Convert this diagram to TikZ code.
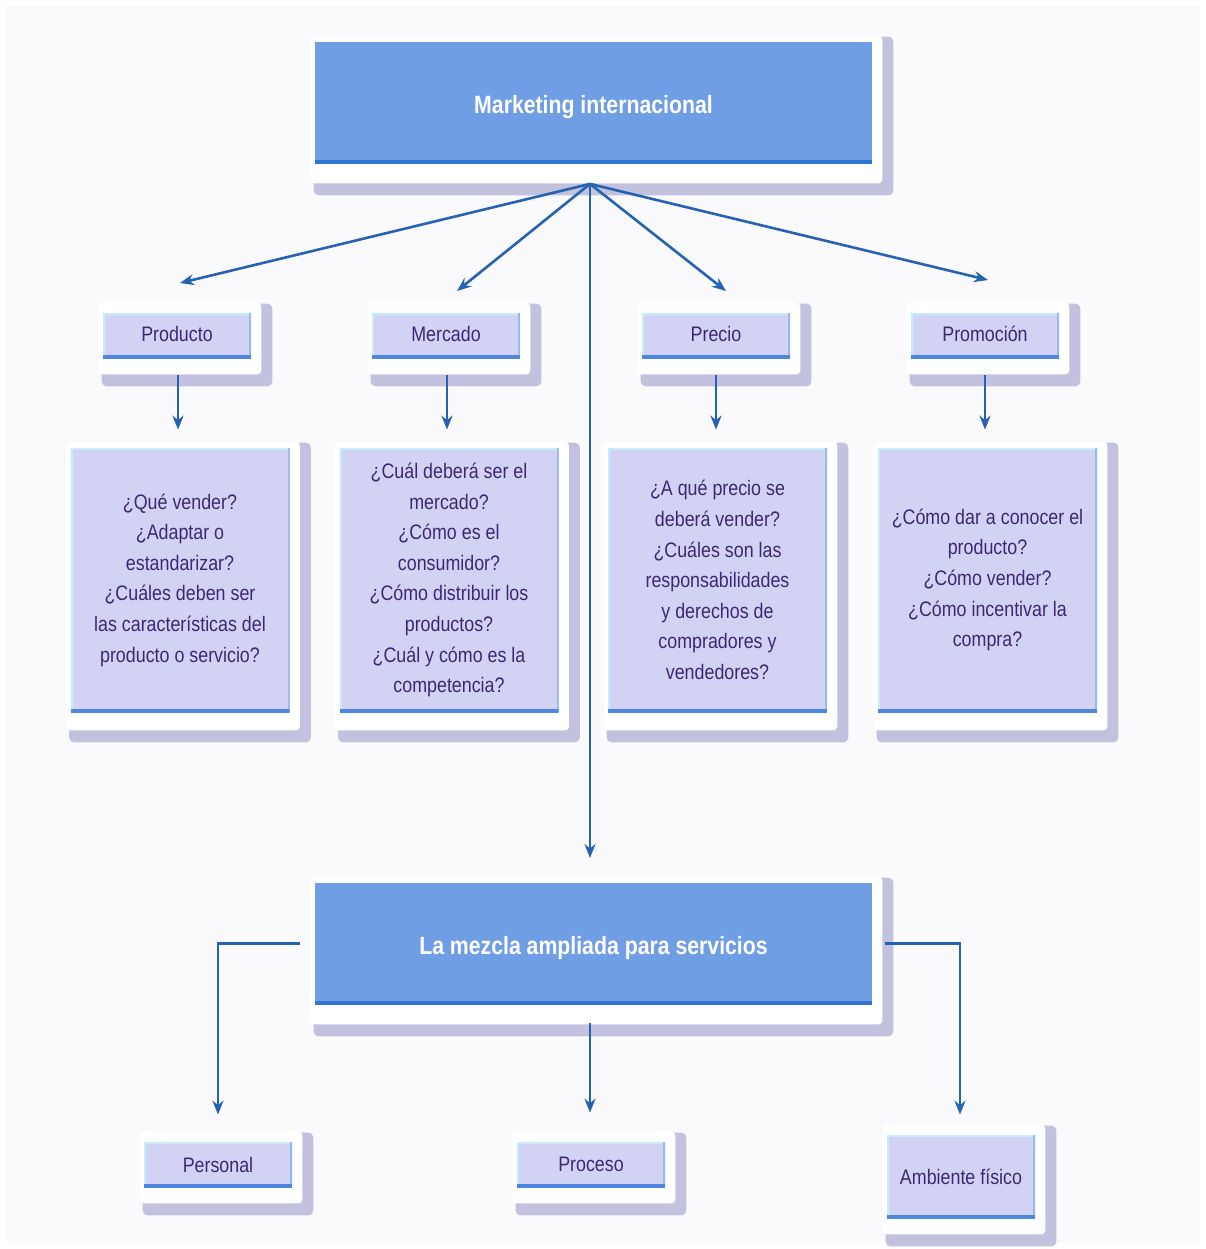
\documentclass[tikz,border=0pt]{standalone}
\usepackage{fontspec}
\setmainfont{Liberation Sans}[FakeStretch=0.85]
\usetikzlibrary{arrows.meta,calc}
\pgfdeclarelayer{background}
\pgfsetlayers{background,main}

\definecolor{pagebg}{RGB}{250,250,253}
\definecolor{headblue}{RGB}{112,158,229}
\definecolor{headedge}{RGB}{50,115,215}
\definecolor{lav}{RGB}{210,210,245}
\definecolor{lavtop}{RGB}{200,236,248}
\definecolor{lavbot}{RGB}{80,135,222}
\definecolor{lavright}{RGB}{150,185,240}
\definecolor{dropcol}{RGB}{194,194,222}
\definecolor{linkblue}{RGB}{38,98,178}
\definecolor{ink}{RGB}{62,40,112}

% white card with a soft lavender drop shadow behind a box
% #1 node, #2 top margin, #3 bottom margin (pixels)
\newcommand\cardunder[3]{%
  \begin{pgfonlayer}{background}
    \fill[dropcol, rounded corners=2.5pt]
      ($(#1.north west)+(-1,-#2+1)$) rectangle ($(#1.south east)+(21,#3+12)$);
    \fill[white, rounded corners=2pt]
      ($(#1.north west)+(-4,-#2)$) rectangle ($(#1.south east)+(10,#3)$);
  \end{pgfonlayer}}

% shift a text line vertically without changing its box
\newcommand\nudge[2]{\raisebox{#1}[\height][\depth]{#2}}

\tikzset{
  head/.style={minimum width=278.5pt, minimum height=60.5pt, inner sep=0pt,
    fill=headblue, text=white, font=\bfseries\fontsize{12.5}{15}\selectfont,
    path picture={\draw[headedge, line width=3pt]
      (path picture bounding box.south west) -- (path picture bounding box.south east);}},
  tag/.style={minimum width=74pt, minimum height=22.5pt, inner sep=0pt,
    fill=lav, text=ink, align=center, font=\fontsize{10.5}{15.3}\selectfont,
    path picture={
      \draw[lavtop, line width=2.4pt] (path picture bounding box.south west)
        -- (path picture bounding box.north west) -- (path picture bounding box.north east);
      \draw[lavright, line width=2pt] (path picture bounding box.north east)
        -- (path picture bounding box.south east);
      \draw[lavbot, line width=2.6pt] (path picture bounding box.south west)
        -- (path picture bounding box.south east);}},
  question/.style={tag, minimum width=109.5pt, minimum height=132pt},
  link/.style={draw=linkblue, line width=1.3pt, -{Stealth[length=7pt,width=5.5pt]}}
}

\begin{document}
\begin{tikzpicture}[x=0.5pt, y=-0.5pt]
\useasboundingbox (0,0) rectangle (1206,1249);
\begin{pgfonlayer}{background}
  \fill[white] (0,0) rectangle (1206,1249);
  \fill[pagebg] (6,6) rectangle (1200,1243);
\end{pgfonlayer}

% main heading
\node[head] (top) at (593.5,102.5) {\nudge{-2.5pt}{Marketing internacional}};

% the four classic areas
\node[tag] (prod) at (177,335.5) {\nudge{1pt}{Producto}};
\node[tag] (merc) at (446,335.5) {\nudge{1pt}{Mercado}};
\node[tag] (prec) at (716,335.5) {\nudge{1pt}{Precio}};
\node[tag] (prom) at (985,335.5) {\nudge{1pt}{Promoción}};

% key questions of each area
\node[question] (q1) at (180,580) {¿Qué vender?\\¿Adaptar o\\estandarizar?\\¿Cuáles deben ser\\las características del\\producto o servicio?};
\node[question] (q2) at (449,580) {¿Cuál deberá ser el\\mercado?\\¿Cómo es el\\consumidor?\\¿Cómo distribuir los\\productos?\\¿Cuál y cómo es la\\competencia?};
\node[question] (q3) at (717.5,580) {¿A qué precio se\\deberá vender?\\¿Cuáles son las\\responsabilidades\\y derechos de\\compradores y\\vendedores?};
\node[question] (q4) at (987.5,580) {¿Cómo dar a conocer el\\producto?\\¿Cómo vender?\\¿Cómo incentivar la\\compra?};

% extended mix for services
\node[head] (mix) at (593.5,943.5) {\nudge{-2.5pt}{La mezcla ampliada para servicios}};
\node[tag] (pers) at (218,1164.5) {Personal};
\node[tag] (proc) at (591,1164.5) {Proceso};
\node[tag, minimum height=41.5pt] (amb) at (961,1176.5) {Ambiente físico};

% cards and shadows
\cardunder{top}{6}{20}
\foreach \n in {prod,merc,prec,prom,pers,proc,amb} {\cardunder{\n}{10}{16}}
\foreach \n in {q1,q2,q3,q4} {\cardunder{\n}{6}{18}}
\cardunder{mix}{6}{20}

% fan of arrows from the heading
\coordinate (hub) at ($(top.south)+(-3.5,20.5)$);
\coordinate (tipprod) at (180,283);
\coordinate (tipmerc) at (457,291);
\coordinate (tipprec) at (726,291);
\coordinate (tipprom) at (988,280);
\coordinate (tipmix) at (590,858);
\draw[link] (hub) -- (tipprod);
\draw[link] (hub) -- (tipmerc);
\draw[link] (hub) -- (tipprec);
\draw[link] (hub) -- (tipprom);
\draw[link] (hub) -- (tipmix);

% from each area to its questions
\draw[link] ($(prod.south)+(1,17)$) -- ($(prod.south |- q1.north)+(1,-18)$);
\draw[link] ($(merc.south)+(1,17)$) -- ($(merc.south |- q2.north)+(1,-18)$);
\draw[link] ($(prec.south)+(0,17)$) -- ($(prec.south |- q3.north)+(0,-18)$);
\draw[link] ($(prom.south)+(0,17)$) -- ($(prom.south |- q4.north)+(0,-18)$);

% from the services mix to its three elements
\draw[link] ($(mix.west)+(-15,0)$) -| ($(pers.north)+(0,-27)$);
\draw[link] ($(proc.north |- mix.south)+(-1,19)$) -- ($(proc.north)+(-1,-29)$);
\draw[link] ($(mix.east)+(13,0)$) -| ($(amb.north)+(-1,-20)$);
\end{tikzpicture}
\end{document}
